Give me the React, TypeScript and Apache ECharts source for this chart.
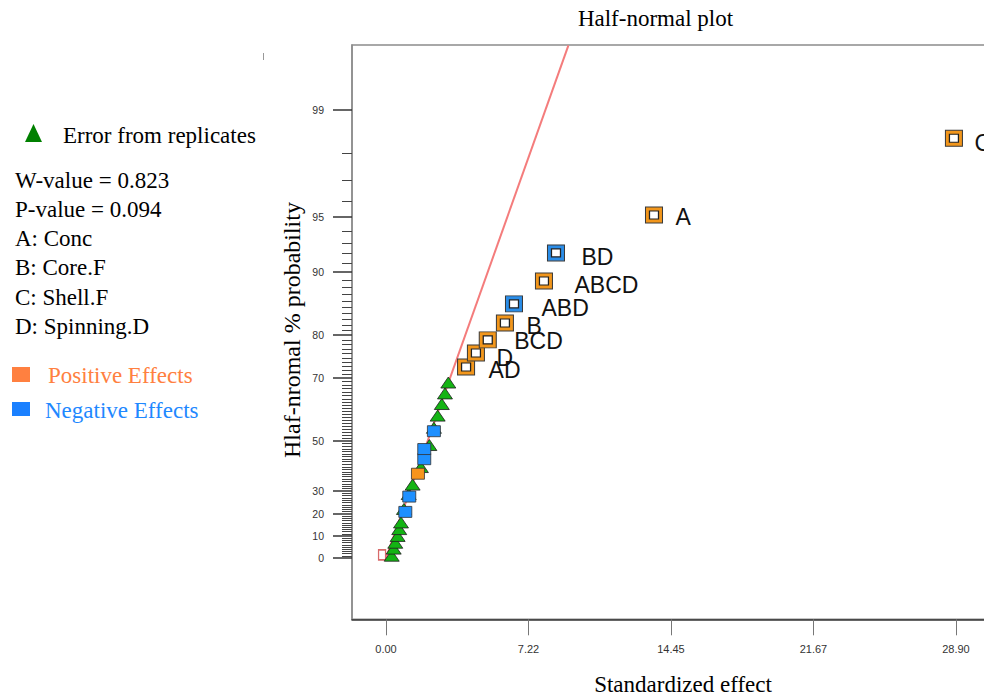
import React, { useEffect, useRef } from 'react';
import * as echarts from 'echarts';

// ---------- data ----------
const xTickValues = [0, 7.225, 14.45, 21.675, 28.9];
const xTickLabels = ['0.00', '7.22', '14.45', '21.67', '28.90'];
const yTickPercents = [0, 10, 20, 30, 50, 70, 80, 90, 95, 99];
const yTickLabels = ['0', '10', '20', '30', '50', '70', '80', '90', '95', '99'];

// labelled effects (hollow squares)
const effectNames = ['AD', 'D', 'BCD', 'B', 'ABD', 'ABCD', 'BD', 'A', 'C'];
const effectX = [4.06, 4.56, 5.16, 6.03, 6.49, 8.01, 8.62, 13.59, 28.8];
const effectP = [72.78, 76.16, 79.02, 82.33, 85.6, 88.88, 92.06, 95.14, 98.42];
const effectSign = ['+', '+', '+', '+', '-', '+', '-', '+', '+'];

// small unlabelled effects (filled squares)
const smallEffectX = [0.98, 1.18, 1.62, 1.94, 1.94, 2.43];
const smallEffectP = [20.9, 27.6, 37.2, 43.0, 46.9, 53.4];
const smallEffectSign = ['-', '-', '+', '-', '-', '-'];

// error from replicates (triangles)
const errorX = [0.29, 0.39, 0.47, 0.59, 0.67, 0.76, 0.91, 1.15, 1.35, 1.77, 2.2, 2.43, 2.62, 2.83, 2.99, 3.16];
const errorP = [1.05, 4.3, 7.0, 10.1, 13.2, 16.2, 22.2, 28.7, 32.7, 39.9, 48.4, 54.6, 58.7, 62.4, 65.6, 68.7];

// zero-effect marker
const zeroX = [-0.2];
const zeroP = [1.4];

// fitted line
const fitLineX = [0, 9.25];
const fitLineP = [0, 99.68];

const legendStats = ['W-value = 0.823', 'P-value = 0.094'];
const legendFactors = ['A: Conc', 'B: Core.F', 'C: Shell.F', 'D: Spinning.D'];

// ---------- helpers ----------
function invNorm(p: number): number {
  const a = [-3.969683028665376e1, 2.209460984245205e2, -2.759285104469687e2, 1.38357751867269e2, -3.066479806614716e1, 2.506628277459239];
  const b = [-5.447609879822406e1, 1.615858368580409e2, -1.556989798598866e2, 6.680131188771972e1, -1.328068155288572e1];
  const c = [-7.784894002430293e-3, -3.223964580411365e-1, -2.400758277161838, -2.549671500994257, 4.374664141464968, 2.938163982698783];
  const d = [7.784695709041462e-3, 3.224671290700398e-1, 2.445134137142996, 3.754408661907416];
  const pl = 0.02425;
  const ph = 1 - pl;
  if (p < pl) {
    const q = Math.sqrt(-2 * Math.log(p));
    return (((((c[0] * q + c[1]) * q + c[2]) * q + c[3]) * q + c[4]) * q + c[5]) / ((((d[0] * q + d[1]) * q + d[2]) * q + d[3]) * q + 1);
  }
  if (p <= ph) {
    const q = p - 0.5;
    const r = q * q;
    return ((((((a[0] * r + a[1]) * r + a[2]) * r + a[3]) * r + a[4]) * r + a[5]) * q) / (((((b[0] * r + b[1]) * r + b[2]) * r + b[3]) * r + b[4]) * r + 1);
  }
  const q = Math.sqrt(-2 * Math.log(1 - p));
  return -(((((c[0] * q + c[1]) * q + c[2]) * q + c[3]) * q + c[4]) * q + c[5]) / ((((d[0] * q + d[1]) * q + d[2]) * q + d[3]) * q + 1);
}
const hz = (pct: number) => invNorm(0.5 + pct / 200);

const ORANGE_BIG = '#F2961B';
const BLUE_BIG = '#2A8DE8';
const ORANGE_SMALL = '#F7941D';
const BLUE_SMALL = '#1E90FF';
const SERIF = '"Liberation Serif", "Times New Roman", serif';
const SANS = '"Liberation Sans", Arial, sans-serif';

// label placement (px) for the labelled effects: [start from centre, dy]
const labelOffsets: Record<string, [number, number]> = {
  C: [20, 5], A: [21, 2], BD: [25, 4], ABCD: [30, 4], ABD: [27, 4], B: [21, 2.5], BCD: [26, 1.5], D: [20, 5], AD: [22, 3],
};

function buildOption(): any {
  const yMajorZ = yTickPercents.map(hz);
  const yMinorZ: number[] = [];
  for (let i = 1; i <= 99; i++) if (!yTickPercents.includes(i)) yMinorZ.push(hz(i));
  const yMin = -0.3525;
  const yMax = 2.9496;
  const xMin = (352 - 386) / 19.72;
  const xMax = (1030 - 386) / 19.72;

  const nearestIdx = (arr: number[], v: number) => {
    let best = 0;
    for (let i = 1; i < arr.length; i++) if (Math.abs(arr[i] - v) < Math.abs(arr[best] - v)) best = i;
    return best;
  };

  const bigData = effectNames.map((n, i) => {
    const off = labelOffsets[n] || [20, 3];
    return {
      name: n,
      value: [effectX[i], hz(effectP[i])],
      itemStyle: { color: effectSign[i] === '+' ? ORANGE_BIG : BLUE_BIG },
      label: { offset: [off[0] - 8.5, off[1]] },
    };
  });

  const legendTextStyle = (text: string, x: number, y: number, fill = '#000') => ({
    type: 'text',
    x,
    y,
    style: {
      text,
      fill,
      fontSize: 23,
      fontFamily: SERIF,
      align: 'left',
      verticalAlign: 'middle',
      textAlign: 'left',
      textVerticalAlign: 'middle',
    },
  });

  const graphics: any[] = [
    {
      type: 'text', x: 655.5, y: 18,
      style: { text: 'Half-normal plot', fill: '#000', fontSize: 23, fontFamily: SERIF, align: 'center', verticalAlign: 'middle', textAlign: 'center', textVerticalAlign: 'middle' },
    },
    {
      type: 'text', x: 683, y: 684,
      style: { text: 'Standardized effect', fill: '#000', fontSize: 23, fontFamily: SERIF, align: 'center', verticalAlign: 'middle', textAlign: 'center', textVerticalAlign: 'middle' },
    },
    {
      type: 'text', x: 292, y: 330, rotation: Math.PI / 2,
      style: { text: 'Hlaf-nromal % probability', fill: '#000', fontSize: 24, fontFamily: SERIF, align: 'center', verticalAlign: 'middle', textAlign: 'center', textVerticalAlign: 'middle' },
    },
    { type: 'line', shape: { x1: 263.5, y1: 53, x2: 263.5, y2: 60 }, style: { stroke: '#999', lineWidth: 1 } },
    { type: 'polygon', shape: { points: [[25, 142], [33.5, 124], [42, 142]] }, style: { fill: '#008000' } },
    legendTextStyle('Error from replicates', 63, 135),
    { type: 'rect', shape: { x: 12, y: 367, width: 18, height: 15 }, style: { fill: '#FF8040' } },
    legendTextStyle('Positive Effects', 48, 375, '#FF8040'),
    { type: 'rect', shape: { x: 12, y: 402, width: 18, height: 14 }, style: { fill: '#1A80FF' } },
    legendTextStyle('Negative Effects', 45, 410, '#1E88FF'),
  ];
  const statsY = [180, 209];
  legendStats.forEach((t, i) => graphics.push(legendTextStyle(t, 15, statsY[i])));
  legendFactors.forEach((t, i) => graphics.push(legendTextStyle(t, 15, 238.5 + i * 29.4)));

  return {
    animation: false,
    backgroundColor: '#fff',
    grid: {
      left: 352, top: 45, right: 10, bottom: 78.7,
      show: true, borderColor: '#8c8c8c', borderWidth: 1.5, backgroundColor: 'transparent',
      containLabel: false, outerBoundsMode: 'none',
    },
    xAxis: {
      type: 'value', min: xMin, max: xMax,
      axisLine: { show: true, onZero: false, lineStyle: { color: '#333', width: 1.5 } },
      axisTick: { show: true, customValues: xTickValues, length: 16, lineStyle: { color: '#777', width: 1 } },
      axisLabel: {
        customValues: xTickValues, margin: 24, fontSize: 11, fontFamily: SANS, color: '#333',
        formatter: (v: number) => xTickLabels[nearestIdx(xTickValues, v)],
      },
      splitLine: { show: false },
    },
    yAxis: [
      {
        type: 'value', min: yMin, max: yMax, position: 'left',
        axisLine: { show: true, onZero: false, lineStyle: { color: '#8c8c8c', width: 1.5 } },
        axisTick: { show: true, customValues: yMajorZ, length: 19, lineStyle: { color: '#333', width: 1.5 } },
        axisLabel: {
          customValues: yMajorZ, margin: 28, fontSize: 10.5, fontFamily: SANS, color: '#333',
          formatter: (v: number) => yTickLabels[nearestIdx(yMajorZ, v)],
        },
        splitLine: { show: false },
      },
      {
        type: 'value', min: yMin, max: yMax, position: 'left', offset: 0,
        axisLine: { show: false, onZero: false },
        axisTick: { show: true, customValues: yMinorZ, length: 10, lineStyle: { color: '#444', width: 1 } },
        axisLabel: { show: false },
        splitLine: { show: false },
      },
    ],
    series: [
      {
        type: 'line', z: 1, silent: true, symbol: 'none', clip: true,
        data: fitLineX.map((x, i) => [x, hz(fitLineP[i])]),
        lineStyle: { color: '#F47C7C', width: 2 },
      },
      {
        type: 'scatter', z: 2, silent: true, symbol: 'rect', symbolSize: [7, 10],
        data: zeroX.map((x, i) => [x, hz(zeroP[i])]),
        itemStyle: { color: '#fff', borderColor: '#D86A6A', borderWidth: 1.5, opacity: 1 },
      },
      {
        type: 'scatter', z: 3, silent: true, symbol: 'triangle', symbolSize: [15, 11],
        data: errorX.map((x, i) => [x, hz(errorP[i])]),
        itemStyle: { color: '#14B414', borderColor: '#1f1f1f', borderWidth: 0.8, opacity: 1 },
      },
      {
        type: 'scatter', z: 4, silent: true, symbol: 'rect', symbolSize: [13, 11],
        data: smallEffectX.map((x, i) => ({
          value: [x, hz(smallEffectP[i])],
          itemStyle: { color: smallEffectSign[i] === '+' ? ORANGE_SMALL : BLUE_SMALL },
        })),
        itemStyle: { borderColor: '#333', borderWidth: 0.8, opacity: 1 },
      },
      {
        type: 'scatter', z: 5, silent: true, symbol: 'rect', symbolSize: [17, 16],
        data: bigData,
        itemStyle: { borderColor: '#3a3a3a', borderWidth: 1, opacity: 1 },
        label: {
          show: true, position: 'right', distance: 0,
          formatter: (p: any) => p.name,
          fontSize: 23, fontFamily: SANS, color: '#111',
        },
      },
      {
        type: 'scatter', z: 6, silent: true, symbol: 'rect', symbolSize: [9, 8],
        data: effectX.map((x, i) => [x, hz(effectP[i])]),
        itemStyle: { color: '#fff', borderColor: '#222', borderWidth: 1.2, opacity: 1 },
      },
    ],
    graphic: graphics,
  };
}

export default function App() {
  const ref = useRef<HTMLDivElement>(null);
  useEffect(() => {
    if (!ref.current) return;
    const chart = echarts.init(ref.current, null, { renderer: 'svg' });
    chart.setOption(buildOption());
    return () => chart.dispose();
  }, []);
  return (
    <div style={{ position: 'fixed', left: 0, top: 0, width: 984, height: 698, overflow: 'hidden', background: '#fff' }}>
      <div ref={ref} style={{ width: 1040, height: 698 }} />
    </div>
  );
}
